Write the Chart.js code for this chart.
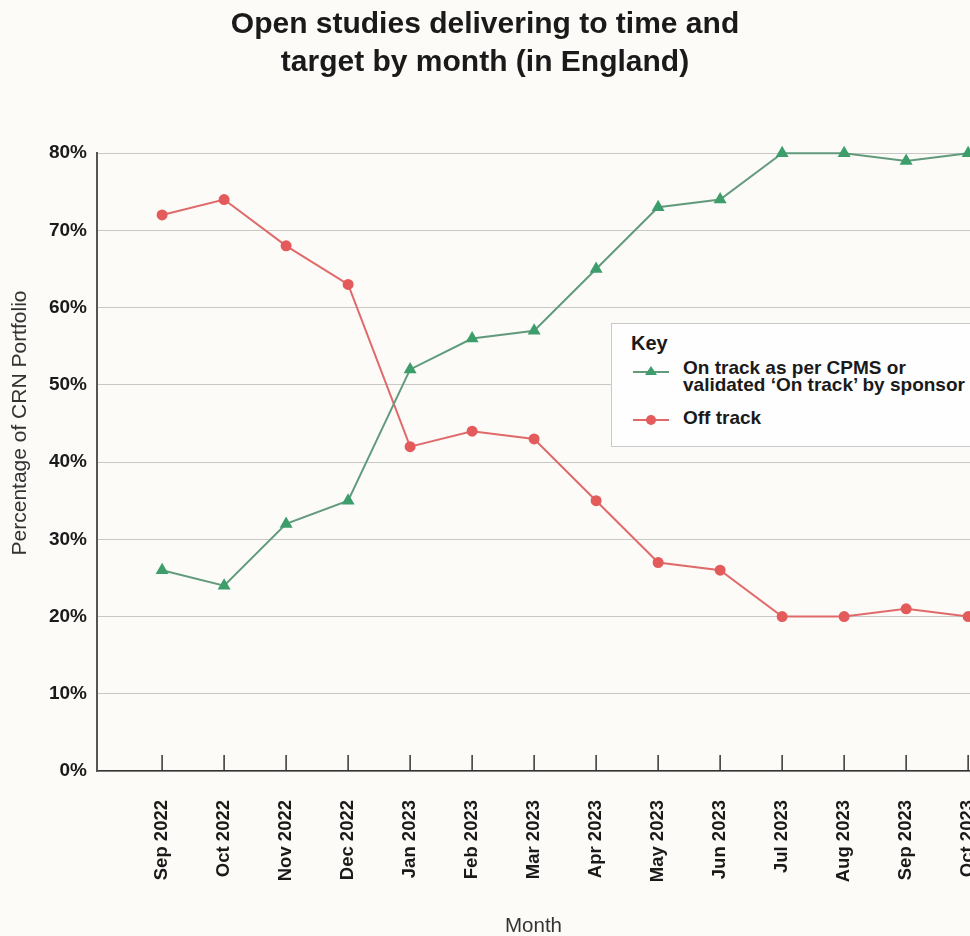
<!DOCTYPE html>
<html>
<head>
<meta charset="utf-8">
<script src="https://cdn.jsdelivr.net/npm/chart.js@4"></script>
<style>
  html, body { margin: 0; padding: 0; background: #fcfbf8; overflow: hidden; }
  #wrap { position: relative; width: 970px; height: 936px; }
  #legend {
    position: absolute; left: 611px; top: 323px; width: 420px; height: 124px;
    border: 1px solid #c9c9c9; background: #fefefe; box-sizing: border-box;
    font-family: "Liberation Sans", Arial, sans-serif; color: #1a1a1a;
  }
  #legend .key { position: absolute; left: 19px; top: 8px; font-weight: bold; font-size: 20px; line-height: 23px; }
  #legend .item { position: absolute; left: 21px; display: flex; align-items: flex-start; }
  #legend .item span { font-weight: bold; font-size: 19px; line-height: 17px; margin-left: 14px; }
</style>
</head>
<body>
<div id="wrap">
  <canvas id="myChart" width="970" height="936"></canvas>
  <div id="legend"></div>
</div>
<script>
const months = ['Sep 2022', 'Oct 2022', 'Nov 2022', 'Dec 2022', 'Jan 2023', 'Feb 2023', 'Mar 2023',
    'Apr 2023', 'May 2023', 'Jun 2023', 'Jul 2023', 'Aug 2023', 'Sep 2023', 'Oct 2023'];
const onTrack = [26, 24, 32, 35, 52, 56, 57, 65, 73, 74, 80, 80, 79, 80];
const offTrack = [72, 74, 68, 63, 42, 44, 43, 35, 27, 26, 20, 20, 21, 20];
const seriesNames = ['On track as per CPMS or\nvalidated \u2018On track\u2019 by sponsor', 'Off track'];
const yTicks = [0, 10, 20, 30, 40, 50, 60, 70, 80];

const FONT = '"Liberation Sans", Arial, sans-serif';

function toPoints(values) {
    return values.map((v, i) => ({ x: i, y: v }));
}

// y title + upward tick marks on the x axis
const extras = {
    id: 'extras',
    beforeDatasetsDraw(chart) {
        const ctx = chart.ctx;
        const xs = chart.scales.x;
        const bottom = chart.chartArea.bottom;
        ctx.save();
        ctx.strokeStyle = '#333';
        ctx.lineWidth = 1.5;
        months.forEach((m, i) => {
            const px = xs.getPixelForValue(i);
            ctx.beginPath();
            ctx.moveTo(px, bottom);
            ctx.lineTo(px, bottom - 16);
            ctx.stroke();
        });
        ctx.restore();
    },
    afterDraw(chart) {
        const ctx = chart.ctx;
        ctx.save();
        ctx.translate(20, 423);
        ctx.rotate(-Math.PI / 2);
        ctx.font = '21px ' + FONT;
        ctx.fillStyle = '#333';
        ctx.textAlign = 'center';
        ctx.textBaseline = 'middle';
        ctx.fillText('Percentage of CRN Portfolio', 0, 0);
        ctx.restore();
    }
};

const data = {
    datasets: [{
        label: seriesNames[0],
        data: toPoints(onTrack),
        borderColor: '#629a7c',
        backgroundColor: '#3d9e6b',
        pointBackgroundColor: '#3d9e6b',
        pointBorderColor: '#3d9e6b',
        pointStyle: 'triangle',
        pointRadius: 5.5,
        borderWidth: 2,
        clip: false
    }, {
        label: seriesNames[1],
        data: toPoints(offTrack),
        borderColor: '#e06a6a',
        backgroundColor: '#e45b5b',
        pointBackgroundColor: '#e45b5b',
        pointBorderColor: '#e45b5b',
        pointStyle: 'circle',
        pointRadius: 4.5,
        borderWidth: 2,
        clip: false
    }]
};

const config = {
    type: 'line',
    data: data,
    plugins: [extras],
    options: {
        responsive: false,
        animation: false,
        layout: { autoPadding: false, padding: { left: 0, right: 0, top: 0, bottom: 0 } },
        plugins: {
            legend: { display: false },
            tooltip: { enabled: false },
            title: {
                display: true,
                text: ['Open studies delivering to time and', 'target by month (in England)'],
                color: '#1a1a1a',
                font: { family: FONT, size: 30, weight: 'bold', lineHeight: 1.27 },
                padding: { top: 6, bottom: 71 }
            }
        },
        scales: {
            x: {
                type: 'linear',
                min: -1.05,
                max: 13.03,
                afterBuildTicks: (axis) => { axis.ticks = months.map((m, i) => ({ value: i })); },
                afterFit: (axis) => { axis.height = 165; axis.paddingLeft = 0; axis.paddingRight = 0; },
                grid: { display: false, drawTicks: false, tickLength: 0 },
                border: { display: true, color: '#333', width: 1.5 },
                ticks: {
                    autoSkip: false,
                    maxRotation: 90,
                    minRotation: 90,
                    padding: 29,
                    color: '#1a1a1a',
                    font: { family: FONT, size: 18.5, weight: 'bold' },
                    callback: (v) => months[v] || ''
                },
                title: {
                    display: true,
                    text: 'Month',
                    color: '#333',
                    font: { family: FONT, size: 20.5 },
                    padding: { top: 0, bottom: -3 }
                }
            },
            y: {
                min: 0,
                max: 80,
                afterBuildTicks: (axis) => { axis.ticks = yTicks.map(v => ({ value: v })); },
                afterFit: (axis) => { axis.width = 97; },
                grid: { color: '#c8c8c8', lineWidth: 1, drawTicks: false, tickLength: 0 },
                border: { display: true, color: '#555', width: 2 },
                ticks: {
                    padding: 10,
                    color: '#1a1a1a',
                    font: { family: FONT, size: 19, weight: 'bold' },
                    callback: (v) => v + '%'
                }
            }
        }
    }
};

const myChart = new Chart(document.getElementById('myChart'), config);

// boxed key, built from the datasets
const legend = document.getElementById('legend');
legend.innerHTML = '<div class="key">Key</div>';
const itemTops = [35, 85];
const lineYs = [13, 11];
myChart.data.datasets.forEach((ds, i) => {
    const item = document.createElement('div');
    item.className = 'item';
    item.style.top = itemTops[i] + 'px';
    const ly = lineYs[i];
    const marker = ds.pointStyle === 'triangle'
        ? '<polygon points="18,' + (ly - 6) + ' 24,' + (ly + 3) + ' 12,' + (ly + 3) + '" fill="' + ds.pointBackgroundColor + '"/>'
        : '<circle cx="18" cy="' + ly + '" r="5" fill="' + ds.pointBackgroundColor + '"/>';
    item.innerHTML = '<svg width="36" height="20" style="flex:none">' +
        '<line x1="0" y1="' + ly + '" x2="36" y2="' + ly +
        '" stroke="' + ds.borderColor + '" stroke-width="2"/>' + marker + '</svg>' +
        '<span>' + ds.label.replace('\n', '<br>') + '</span>';
    legend.appendChild(item);
});
</script>
</body>
</html>
